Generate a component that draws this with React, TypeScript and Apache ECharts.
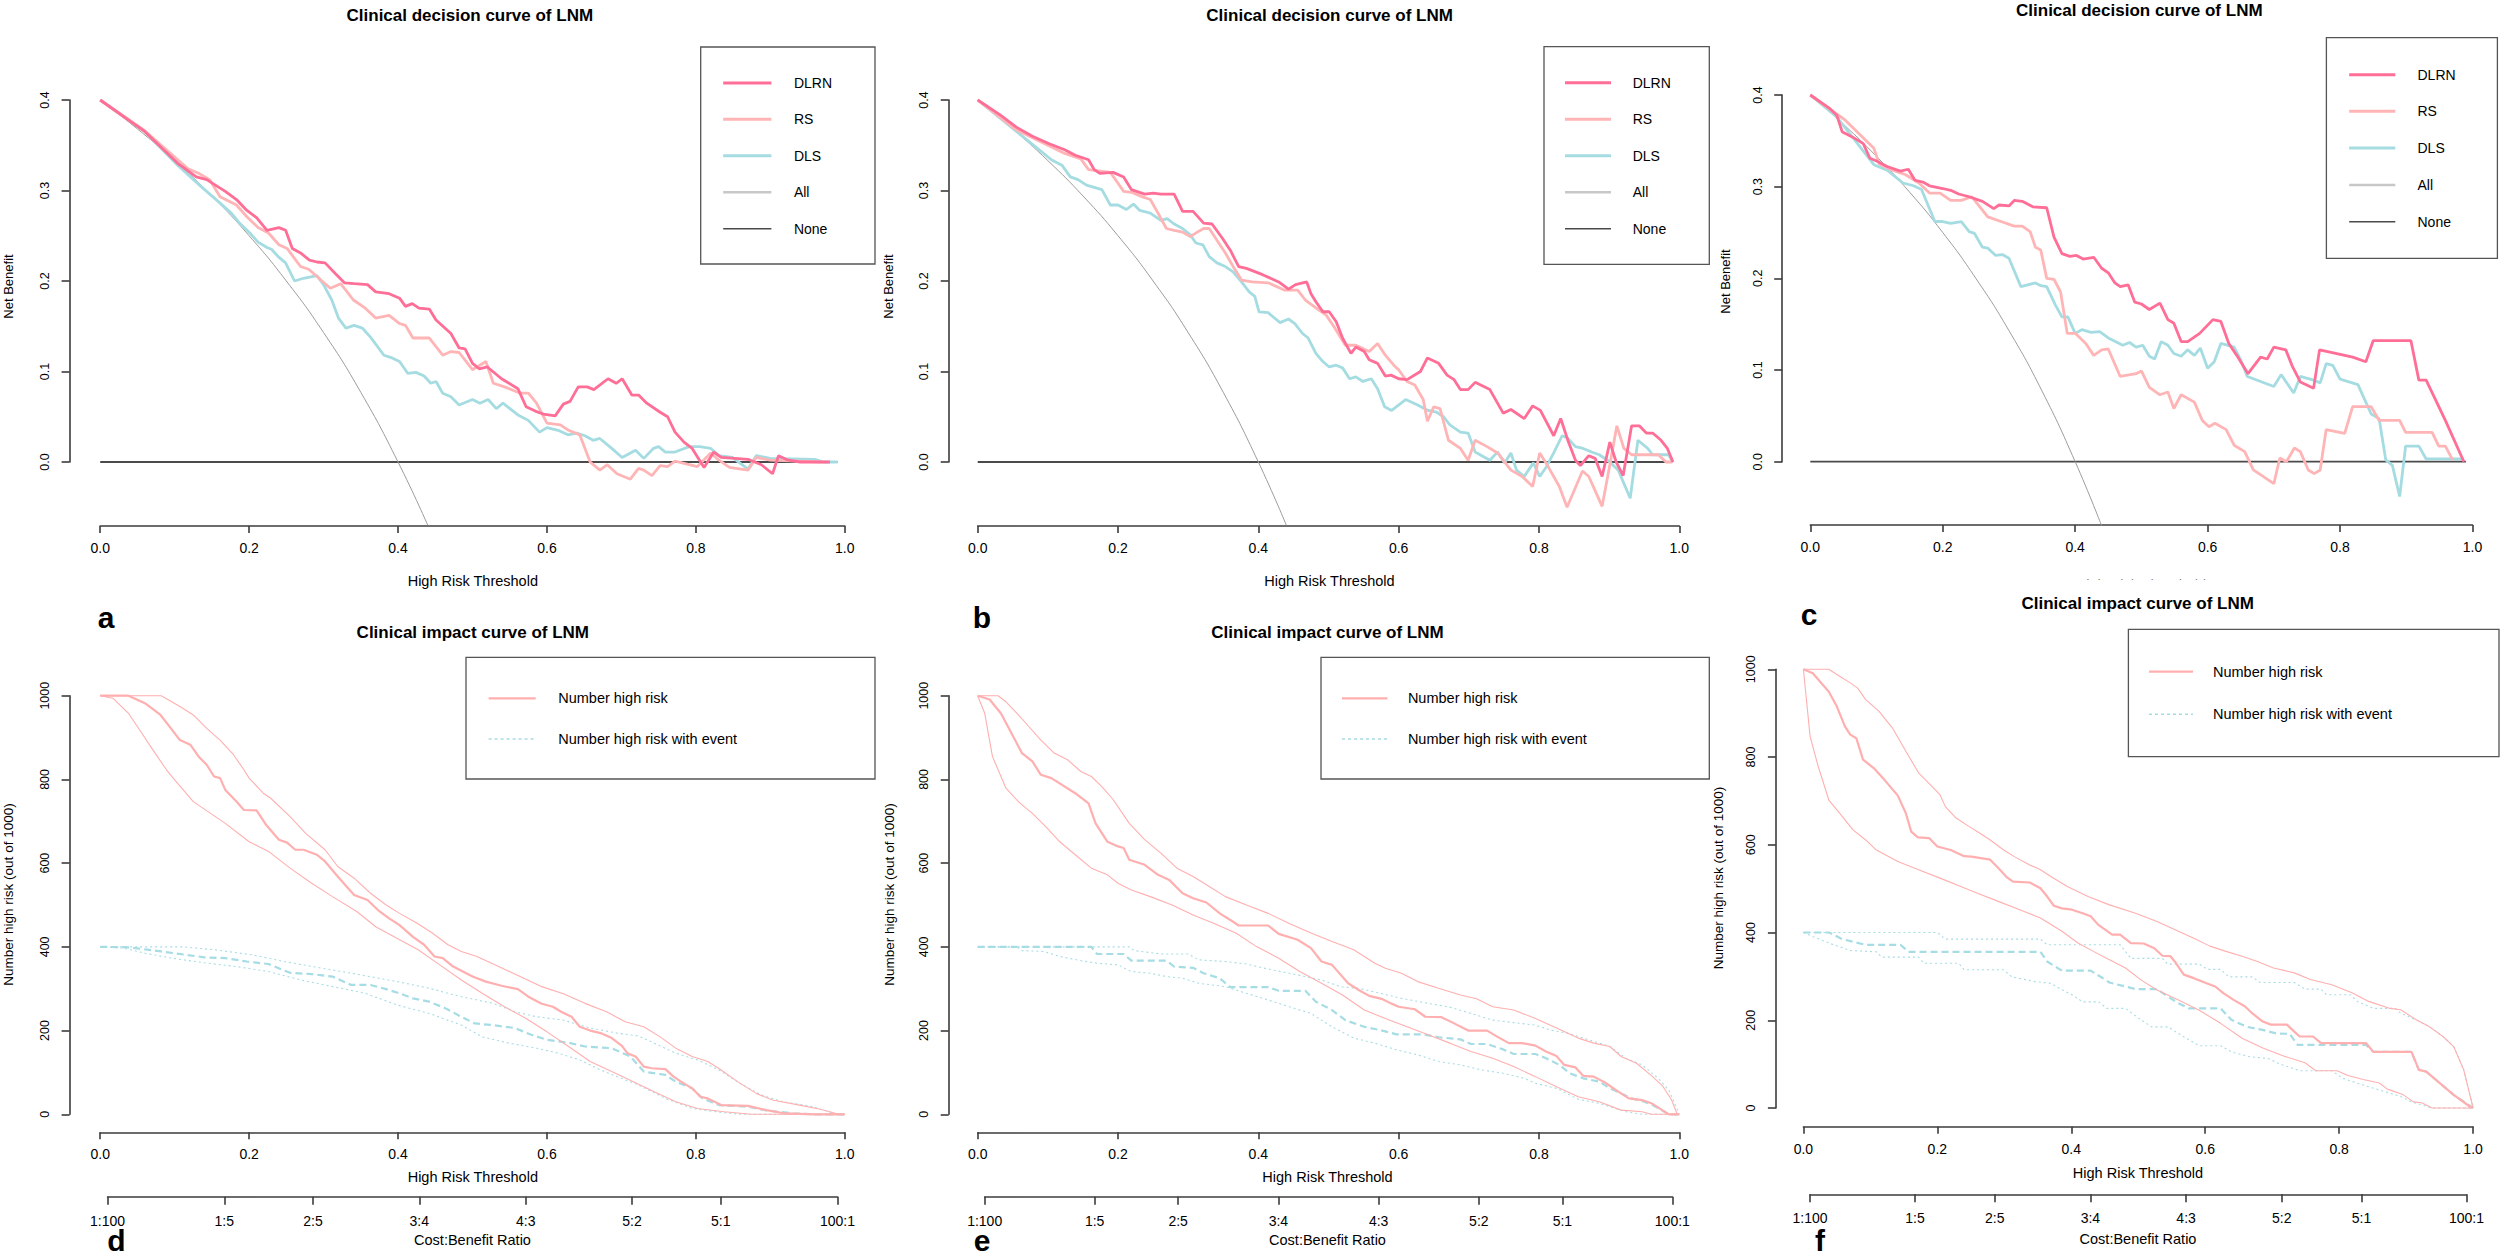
import React, { useEffect, useRef } from 'react';
import * as echarts from 'echarts';

// ---------------- ticks / labels ----------------
const thresholdTicks = [0, 0.2, 0.4, 0.6, 0.8, 1.0];
const netBenefitTicks = [0, 0.1, 0.2, 0.3, 0.4];
const impactTicks = [0, 200, 400, 600, 800, 1000];
const costBenefitLabels = ['1:100', '1:5', '2:5', '3:4', '4:3', '5:2', '5:1', '100:1'];
const decisionNames = ['DLRN', 'RS', 'DLS', 'All', 'None'];
const impactNames = ['Number high risk', 'Number high risk with event'];
const panelLetters = ['a', 'b', 'c', 'd', 'e', 'f'];
const decisionTitle = 'Clinical decision curve of LNM';
const impactTitle = 'Clinical impact curve of LNM';

// ---------------- decision curves (threshold, net benefit) ----------------
const allCurve = [[0, 0.4], [0.05, 0.368], [0.1, 0.333], [0.15, 0.294], [0.2, 0.25], [0.25, 0.2], [0.3, 0.143], [0.35, 0.077], [0.4, 0], [0.44, -0.07]];
const noneLine = [[0, 0], [0.99, 0]];

const aDLRN = [[0,0.4],[0.06,0.365],[0.104,0.33],[0.129,0.315],[0.143,0.312],[0.168,0.299],[0.183,0.29],[0.197,0.278],[0.21,0.27],[0.224,0.256],[0.24,0.259],[0.249,0.256],[0.258,0.236],[0.269,0.231],[0.281,0.223],[0.291,0.221],[0.302,0.22],[0.316,0.208],[0.328,0.198],[0.341,0.197],[0.359,0.196],[0.37,0.188],[0.388,0.186],[0.402,0.181],[0.41,0.172],[0.419,0.175],[0.428,0.17],[0.442,0.169],[0.451,0.157],[0.471,0.142],[0.482,0.126],[0.49,0.125],[0.5,0.109],[0.509,0.103],[0.52,0.105],[0.539,0.092],[0.561,0.081],[0.572,0.061],[0.585,0.056],[0.595,0.053],[0.611,0.051],[0.622,0.064],[0.631,0.067],[0.642,0.083],[0.654,0.083],[0.663,0.08],[0.682,0.092],[0.693,0.087],[0.701,0.092],[0.714,0.074],[0.723,0.074],[0.734,0.065],[0.752,0.055],[0.762,0.05],[0.772,0.033],[0.784,0.022],[0.795,0.015],[0.811,-0.006],[0.824,0.011],[0.834,0.005],[0.87,0.003],[0.888,-0.003],[0.903,-0.013],[0.911,0.007],[0.924,0.002],[0.94,0],[0.98,0]];
const aRS = [[0,0.4],[0.06,0.366],[0.082,0.35],[0.118,0.324],[0.132,0.319],[0.147,0.312],[0.161,0.293],[0.183,0.284],[0.197,0.271],[0.212,0.259],[0.226,0.253],[0.24,0.24],[0.251,0.236],[0.269,0.216],[0.28,0.213],[0.309,0.192],[0.323,0.197],[0.34,0.179],[0.356,0.17],[0.37,0.159],[0.388,0.162],[0.402,0.153],[0.41,0.151],[0.42,0.137],[0.442,0.137],[0.46,0.118],[0.471,0.122],[0.482,0.121],[0.5,0.102],[0.518,0.111],[0.528,0.087],[0.543,0.083],[0.564,0.076],[0.575,0.076],[0.586,0.065],[0.6,0.043],[0.618,0.041],[0.629,0.035],[0.644,0.03],[0.658,0],[0.671,-0.009],[0.681,-0.003],[0.694,-0.013],[0.712,-0.019],[0.723,-0.007],[0.73,-0.009],[0.741,-0.015],[0.752,-0.004],[0.762,-0.005],[0.772,0.001],[0.802,-0.005],[0.82,0.01],[0.831,0.002],[0.845,-0.006],[0.87,-0.009],[0.881,0.005],[0.9,0.002],[0.97,0]];
const aDLS = [[0,0.4],[0.06,0.365],[0.104,0.328],[0.136,0.304],[0.161,0.286],[0.176,0.275],[0.186,0.265],[0.201,0.253],[0.212,0.243],[0.224,0.237],[0.23,0.235],[0.239,0.227],[0.249,0.22],[0.261,0.2],[0.273,0.203],[0.291,0.206],[0.3,0.196],[0.311,0.179],[0.32,0.159],[0.33,0.148],[0.341,0.151],[0.352,0.148],[0.363,0.138],[0.381,0.118],[0.392,0.115],[0.402,0.111],[0.413,0.098],[0.424,0.099],[0.435,0.095],[0.444,0.087],[0.451,0.089],[0.46,0.076],[0.471,0.072],[0.482,0.063],[0.5,0.069],[0.51,0.065],[0.521,0.069],[0.532,0.059],[0.541,0.065],[0.561,0.052],[0.575,0.046],[0.59,0.033],[0.6,0.038],[0.615,0.035],[0.628,0.03],[0.64,0.032],[0.651,0.029],[0.662,0.024],[0.671,0.026],[0.687,0.015],[0.701,0.005],[0.719,0.013],[0.73,0.004],[0.743,0.015],[0.75,0.017],[0.759,0.011],[0.772,0.011],[0.791,0.017],[0.805,0.017],[0.82,0.015],[0.831,0.007],[0.849,0.005],[0.87,-0.008],[0.881,0.007],[0.9,0.004],[0.96,0.003],[0.971,0],[0.99,0]];

const bDLRN = [[0,0.4],[0.033,0.383],[0.055,0.37],[0.078,0.36],[0.101,0.352],[0.124,0.345],[0.139,0.339],[0.158,0.334],[0.166,0.323],[0.174,0.319],[0.193,0.32],[0.208,0.315],[0.219,0.301],[0.238,0.296],[0.25,0.297],[0.261,0.296],[0.28,0.296],[0.292,0.277],[0.307,0.277],[0.322,0.264],[0.334,0.263],[0.349,0.247],[0.36,0.234],[0.372,0.216],[0.383,0.214],[0.406,0.207],[0.429,0.199],[0.443,0.191],[0.453,0.196],[0.469,0.199],[0.475,0.186],[0.482,0.177],[0.492,0.166],[0.501,0.166],[0.511,0.155],[0.52,0.137],[0.532,0.12],[0.539,0.127],[0.551,0.122],[0.558,0.113],[0.57,0.109],[0.581,0.095],[0.589,0.096],[0.6,0.092],[0.612,0.091],[0.631,0.1],[0.641,0.115],[0.657,0.109],[0.669,0.096],[0.679,0.091],[0.688,0.08],[0.699,0.08],[0.709,0.088],[0.73,0.08],[0.749,0.054],[0.76,0.058],[0.779,0.048],[0.791,0.062],[0.802,0.057],[0.821,0.029],[0.831,0.048],[0.842,0.022],[0.852,0.002],[0.859,-0.004],[0.871,0.007],[0.88,0.004],[0.89,-0.016],[0.901,0.022],[0.91,0],[0.92,-0.015],[0.932,0.04],[0.943,0.04],[0.953,0.032],[0.962,0.032],[0.974,0.024],[0.983,0.015],[0.991,0]];
const bRS = [[0,0.4],[0.055,0.367],[0.124,0.341],[0.147,0.335],[0.158,0.323],[0.189,0.32],[0.2,0.308],[0.208,0.299],[0.219,0.298],[0.235,0.293],[0.246,0.29],[0.257,0.275],[0.269,0.258],[0.28,0.256],[0.292,0.254],[0.303,0.249],[0.313,0.254],[0.322,0.258],[0.33,0.258],[0.341,0.245],[0.353,0.231],[0.364,0.216],[0.376,0.201],[0.391,0.199],[0.414,0.198],[0.437,0.19],[0.456,0.19],[0.467,0.179],[0.486,0.168],[0.497,0.162],[0.509,0.148],[0.524,0.129],[0.539,0.129],[0.558,0.122],[0.57,0.131],[0.581,0.118],[0.593,0.107],[0.6,0.102],[0.612,0.089],[0.623,0.085],[0.635,0.069],[0.641,0.045],[0.65,0.061],[0.659,0.059],[0.671,0.024],[0.688,0.015],[0.699,0.002],[0.709,0.024],[0.726,0.017],[0.741,0.01],[0.76,-0.009],[0.776,-0.016],[0.791,-0.027],[0.801,0.01],[0.81,-0.001],[0.829,-0.027],[0.84,-0.05],[0.862,-0.01],[0.871,-0.016],[0.89,-0.049],[0.901,-0.003],[0.911,0.04],[0.921,0.015],[0.932,0.008],[0.97,0.008],[0.981,0],[0.99,0]];
const bDLS = [[0,0.4],[0.086,0.346],[0.105,0.334],[0.12,0.328],[0.132,0.315],[0.143,0.312],[0.155,0.306],[0.177,0.301],[0.189,0.284],[0.2,0.284],[0.212,0.279],[0.222,0.285],[0.231,0.278],[0.246,0.275],[0.261,0.267],[0.27,0.269],[0.28,0.263],[0.292,0.258],[0.303,0.251],[0.311,0.242],[0.321,0.24],[0.33,0.227],[0.341,0.22],[0.353,0.216],[0.364,0.21],[0.376,0.199],[0.387,0.188],[0.395,0.183],[0.401,0.166],[0.414,0.165],[0.431,0.154],[0.443,0.158],[0.452,0.153],[0.463,0.142],[0.471,0.137],[0.482,0.12],[0.492,0.111],[0.501,0.105],[0.511,0.107],[0.52,0.104],[0.53,0.092],[0.539,0.094],[0.549,0.089],[0.561,0.092],[0.57,0.081],[0.58,0.061],[0.59,0.057],[0.61,0.069],[0.627,0.063],[0.642,0.057],[0.654,0.055],[0.664,0.05],[0.673,0.041],[0.688,0.033],[0.699,0.032],[0.709,0.011],[0.73,0.002],[0.741,0.011],[0.751,-0.001],[0.76,0.01],[0.768,-0.009],[0.779,-0.016],[0.792,-0.001],[0.801,-0.016],[0.81,-0.006],[0.821,0.01],[0.833,0.029],[0.84,0.027],[0.852,0.017],[0.863,0.015],[0.875,0.011],[0.886,0.008],[0.901,0],[0.913,-0.009],[0.93,-0.04],[0.941,0.024],[0.955,0.015],[0.962,0.008],[0.985,0.008],[0.99,0]];

const cDLRN = [[0,0.4],[0.028,0.386],[0.04,0.378],[0.048,0.36],[0.064,0.354],[0.08,0.347],[0.09,0.331],[0.1,0.328],[0.116,0.322],[0.136,0.317],[0.148,0.319],[0.158,0.307],[0.17,0.305],[0.18,0.301],[0.2,0.298],[0.212,0.296],[0.224,0.292],[0.24,0.289],[0.26,0.284],[0.277,0.276],[0.285,0.28],[0.3,0.279],[0.308,0.285],[0.32,0.284],[0.336,0.278],[0.357,0.277],[0.368,0.245],[0.38,0.227],[0.392,0.224],[0.402,0.225],[0.412,0.221],[0.428,0.223],[0.44,0.211],[0.45,0.206],[0.46,0.195],[0.468,0.191],[0.48,0.193],[0.49,0.174],[0.5,0.172],[0.512,0.166],[0.528,0.173],[0.54,0.155],[0.549,0.151],[0.56,0.131],[0.57,0.131],[0.588,0.14],[0.608,0.155],[0.62,0.153],[0.632,0.129],[0.644,0.116],[0.661,0.096],[0.68,0.114],[0.69,0.112],[0.7,0.125],[0.718,0.122],[0.728,0.104],[0.74,0.087],[0.76,0.08],[0.769,0.122],[0.795,0.118],[0.819,0.114],[0.839,0.109],[0.85,0.132],[0.907,0.132],[0.919,0.089],[0.93,0.089],[0.959,0.045],[0.987,0]];
const cRS = [[0,0.4],[0.052,0.373],[0.096,0.342],[0.104,0.325],[0.124,0.318],[0.144,0.313],[0.164,0.304],[0.18,0.293],[0.196,0.293],[0.212,0.285],[0.228,0.285],[0.244,0.289],[0.268,0.267],[0.288,0.262],[0.308,0.257],[0.32,0.257],[0.332,0.251],[0.34,0.234],[0.348,0.231],[0.357,0.2],[0.368,0.199],[0.378,0.185],[0.388,0.14],[0.4,0.14],[0.416,0.129],[0.428,0.116],[0.44,0.122],[0.45,0.123],[0.468,0.093],[0.492,0.096],[0.5,0.099],[0.512,0.081],[0.528,0.073],[0.54,0.076],[0.549,0.058],[0.56,0.073],[0.58,0.065],[0.592,0.045],[0.602,0.038],[0.611,0.042],[0.628,0.035],[0.64,0.018],[0.656,0.011],[0.669,-0.009],[0.7,-0.024],[0.709,0.004],[0.719,0],[0.731,0.015],[0.74,0.011],[0.752,-0.009],[0.761,-0.013],[0.77,-0.009],[0.779,0.035],[0.807,0.031],[0.819,0.06],[0.847,0.06],[0.859,0.045],[0.89,0.045],[0.899,0.032],[0.939,0.032],[0.949,0.017],[0.959,0.017],[0.97,0.002]];
const cDLS = [[0,0.4],[0.04,0.376],[0.096,0.324],[0.116,0.318],[0.14,0.304],[0.156,0.301],[0.168,0.297],[0.188,0.262],[0.2,0.262],[0.212,0.26],[0.228,0.262],[0.24,0.251],[0.248,0.249],[0.26,0.234],[0.268,0.233],[0.28,0.225],[0.29,0.226],[0.3,0.222],[0.318,0.191],[0.34,0.195],[0.348,0.192],[0.357,0.191],[0.37,0.171],[0.38,0.158],[0.389,0.158],[0.4,0.14],[0.41,0.144],[0.424,0.141],[0.437,0.142],[0.45,0.135],[0.472,0.127],[0.482,0.13],[0.492,0.125],[0.502,0.127],[0.512,0.115],[0.52,0.112],[0.53,0.131],[0.54,0.127],[0.549,0.118],[0.56,0.115],[0.57,0.122],[0.58,0.116],[0.589,0.124],[0.6,0.102],[0.61,0.109],[0.62,0.129],[0.64,0.125],[0.65,0.111],[0.66,0.093],[0.7,0.082],[0.711,0.095],[0.73,0.075],[0.74,0.093],[0.76,0.089],[0.77,0.086],[0.779,0.107],[0.789,0.105],[0.8,0.09],[0.827,0.084],[0.847,0.052],[0.859,0.047],[0.869,0.002],[0.879,-0.004],[0.89,-0.038],[0.899,0.017],[0.919,0.017],[0.93,0.003],[0.987,0.003]];

// ---------------- clinical impact curves (threshold, number out of 1000) ----------------
const dHighRisk = [[0,1000],[0.038,1000],[0.06,982],[0.081,954],[0.095,922],[0.107,894],[0.121,883],[0.132,855],[0.143,835],[0.153,807],[0.161,803],[0.168,775],[0.183,747],[0.193,727],[0.21,726],[0.223,691],[0.24,656],[0.251,649],[0.262,632],[0.273,632],[0.291,620],[0.302,604],[0.319,568],[0.341,524],[0.359,512],[0.373,488],[0.388,468],[0.402,452],[0.42,424],[0.435,405],[0.449,377],[0.46,373],[0.474,353],[0.5,329],[0.518,317],[0.539,307],[0.561,299],[0.575,281],[0.593,264],[0.608,257],[0.619,245],[0.633,233],[0.644,209],[0.658,200],[0.672,194],[0.687,182],[0.701,163],[0.708,146],[0.719,138],[0.73,114],[0.741,110],[0.759,108],[0.77,90],[0.78,78],[0.795,62],[0.806,42],[0.816,38],[0.834,22],[0.87,20],[0.895,10],[0.92,2],[0.96,0],[1,0]];
const dHighRiskUpper = [[0,1000],[0.082,1000],[0.107,974],[0.125,954],[0.143,922],[0.161,894],[0.179,859],[0.193,823],[0.2,803],[0.219,767],[0.229,755],[0.255,711],[0.276,671],[0.302,632],[0.319,592],[0.341,564],[0.363,528],[0.384,500],[0.402,480],[0.424,458],[0.446,433],[0.467,405],[0.485,389],[0.506,377],[0.535,353],[0.564,329],[0.593,305],[0.622,288],[0.651,265],[0.68,245],[0.705,221],[0.73,209],[0.752,185],[0.773,158],[0.795,138],[0.816,126],[0.834,106],[0.856,78],[0.881,50],[0.903,34],[0.939,22],[0.967,12],[0.992,0]];
const dHighRiskLower = [[0,1000],[0.017,994],[0.038,958],[0.053,918],[0.071,870],[0.089,823],[0.1,799],[0.125,747],[0.168,695],[0.2,651],[0.226,628],[0.255,588],[0.284,552],[0.312,520],[0.345,484],[0.37,448],[0.399,420],[0.427,393],[0.456,357],[0.485,321],[0.513,289],[0.543,257],[0.572,229],[0.6,197],[0.629,162],[0.658,126],[0.687,102],[0.716,78],[0.744,54],[0.773,30],[0.802,14],[0.838,6],[0.874,0],[1,0]];
const dWithEvent = [[0,400],[0.038,399],[0.082,389],[0.14,375],[0.168,373],[0.197,365],[0.226,359],[0.255,338],[0.284,335],[0.312,329],[0.337,309],[0.363,309],[0.384,299],[0.402,289],[0.42,277],[0.442,269],[0.464,253],[0.485,233],[0.503,217],[0.528,213],[0.557,206],[0.579,190],[0.6,178],[0.629,171],[0.651,162],[0.687,158],[0.712,138],[0.73,102],[0.759,94],[0.773,78],[0.795,62],[0.809,38],[0.831,22],[0.87,18],[0.895,9],[0.931,2],[0.96,0],[1,0]];
const dWithEventUpper = [[0,400],[0.111,400],[0.154,393],[0.204,381],[0.247,365],[0.298,349],[0.334,338],[0.399,317],[0.442,301],[0.485,281],[0.528,265],[0.557,245],[0.586,233],[0.622,225],[0.658,206],[0.694,194],[0.723,187],[0.744,170],[0.773,146],[0.802,130],[0.831,106],[0.859,74],[0.888,46],[0.917,30],[0.953,20],[0.99,0]];
const dWithEventLower = [[0,400],[0.031,397],[0.06,385],[0.096,373],[0.14,362],[0.183,353],[0.226,341],[0.269,321],[0.312,305],[0.356,289],[0.399,261],[0.442,241],[0.485,213],[0.513,185],[0.549,170],[0.586,158],[0.615,146],[0.644,130],[0.672,106],[0.694,90],[0.723,70],[0.759,38],[0.795,14],[0.831,5],[0.86,0],[1,0]];

const eHighRisk = [[0,1000],[0.017,991],[0.033,958],[0.048,911],[0.063,863],[0.078,843],[0.09,811],[0.105,803],[0.109,799],[0.139,767],[0.158,743],[0.168,695],[0.185,651],[0.2,640],[0.208,636],[0.216,608],[0.238,596],[0.257,572],[0.273,560],[0.292,528],[0.307,516],[0.326,506],[0.345,480],[0.364,460],[0.372,451],[0.414,451],[0.429,431],[0.456,417],[0.475,397],[0.49,365],[0.505,357],[0.528,313],[0.543,297],[0.558,283],[0.577,275],[0.589,265],[0.6,257],[0.623,251],[0.638,233],[0.661,232],[0.677,219],[0.699,200],[0.726,200],[0.741,185],[0.757,170],[0.776,170],[0.795,164],[0.81,150],[0.825,139],[0.836,118],[0.852,112],[0.863,92],[0.878,90],[0.894,76],[0.913,54],[0.928,38],[0.947,34],[0.962,25],[0.985,0],[1,0]];
const eHighRiskUpper = [[0,1000],[0.029,1000],[0.04,986],[0.056,958],[0.071,930],[0.09,894],[0.109,863],[0.128,847],[0.147,819],[0.162,807],[0.177,783],[0.193,752],[0.216,695],[0.238,656],[0.261,624],[0.284,588],[0.307,568],[0.33,544],[0.353,520],[0.383,500],[0.414,480],[0.444,456],[0.475,433],[0.505,413],[0.536,393],[0.566,361],[0.581,349],[0.604,337],[0.627,317],[0.657,301],[0.688,285],[0.711,276],[0.734,257],[0.764,249],[0.795,229],[0.825,206],[0.856,182],[0.878,170],[0.901,162],[0.917,138],[0.939,122],[0.962,90],[0.977,66],[0.989,34],[0.997,0]];
const eHighRiskLower = [[0,1000],[0.01,958],[0.021,855],[0.04,780],[0.059,745],[0.078,719],[0.097,687],[0.117,651],[0.139,620],[0.162,588],[0.185,572],[0.2,552],[0.219,536],[0.246,520],[0.277,500],[0.307,476],[0.337,456],[0.368,433],[0.398,400],[0.429,373],[0.459,341],[0.49,313],[0.52,285],[0.551,249],[0.581,229],[0.612,209],[0.642,190],[0.673,170],[0.703,150],[0.734,134],[0.764,114],[0.795,90],[0.825,66],[0.856,42],[0.886,30],[0.917,10],[0.947,6],[0.96,0],[1,0]];
const eWithEvent = [[0,400],[0.162,400],[0.17,383],[0.208,383],[0.219,367],[0.269,367],[0.28,353],[0.307,350],[0.322,337],[0.345,325],[0.36,304],[0.414,304],[0.429,295],[0.467,295],[0.482,269],[0.505,249],[0.524,225],[0.551,209],[0.574,201],[0.597,191],[0.635,191],[0.657,184],[0.688,179],[0.703,168],[0.726,168],[0.749,155],[0.764,144],[0.795,144],[0.81,134],[0.829,118],[0.844,98],[0.863,86],[0.886,78],[0.901,62],[0.917,50],[0.932,38],[0.947,32],[0.962,22],[0.985,0],[1,0]];
const eWithEventUpper = [[0,400],[0.216,400],[0.223,391],[0.261,383],[0.3,383],[0.315,369],[0.353,365],[0.383,359],[0.414,347],[0.444,337],[0.467,329],[0.49,321],[0.517,305],[0.543,301],[0.574,289],[0.604,277],[0.642,265],[0.673,256],[0.703,241],[0.734,225],[0.764,219],[0.795,213],[0.817,201],[0.84,194],[0.871,178],[0.901,162],[0.924,134],[0.947,118],[0.97,86],[0.985,58],[1,0]];
const eWithEventLower = [[0,400],[0.056,400],[0.063,391],[0.094,389],[0.117,377],[0.147,367],[0.17,361],[0.2,357],[0.219,341],[0.246,337],[0.269,329],[0.292,325],[0.315,313],[0.353,305],[0.383,289],[0.414,273],[0.444,257],[0.475,241],[0.505,209],[0.536,182],[0.566,170],[0.597,154],[0.627,142],[0.657,126],[0.688,118],[0.718,106],[0.749,98],[0.779,86],[0.795,74],[0.825,62],[0.856,36],[0.886,26],[0.924,6],[0.947,0],[1,0]];

const fHighRisk = [[0,1000],[0.014,991],[0.038,949],[0.05,915],[0.062,870],[0.07,851],[0.079,843],[0.089,794],[0.105,775],[0.121,748],[0.141,712],[0.153,672],[0.161,630],[0.171,617],[0.188,615],[0.2,596],[0.22,588],[0.24,574],[0.251,573],[0.279,566],[0.291,547],[0.303,527],[0.313,516],[0.338,514],[0.354,501],[0.364,482],[0.374,461],[0.386,455],[0.401,452],[0.417,444],[0.429,437],[0.44,418],[0.461,395],[0.473,395],[0.489,376],[0.508,375],[0.524,364],[0.536,347],[0.548,346],[0.556,331],[0.568,304],[0.583,296],[0.599,286],[0.615,277],[0.627,262],[0.643,246],[0.659,232],[0.67,216],[0.686,197],[0.698,190],[0.722,190],[0.733,174],[0.741,163],[0.761,163],[0.773,148],[0.84,148],[0.851,128],[0.908,128],[0.919,87],[0.93,83],[0.971,30],[0.998,0]];
const fHighRiskUpper = [[0,1000],[0.038,1000],[0.054,984],[0.07,969],[0.081,957],[0.093,931],[0.113,904],[0.133,866],[0.153,813],[0.172,764],[0.192,733],[0.204,714],[0.212,687],[0.228,661],[0.247,642],[0.263,627],[0.279,611],[0.299,588],[0.315,573],[0.338,554],[0.354,543],[0.37,527],[0.394,505],[0.425,482],[0.457,463],[0.496,444],[0.528,425],[0.56,403],[0.583,387],[0.607,369],[0.631,357],[0.655,346],[0.678,334],[0.702,319],[0.733,308],[0.757,293],[0.789,281],[0.82,262],[0.844,243],[0.876,227],[0.892,224],[0.915,201],[0.935,185],[0.955,163],[0.971,140],[0.986,87],[1,0]];
const fHighRiskLower = [[0,1000],[0.01,847],[0.022,779],[0.038,702],[0.054,672],[0.074,634],[0.093,611],[0.109,588],[0.141,562],[0.172,543],[0.204,524],[0.235,505],[0.259,490],[0.291,471],[0.323,452],[0.354,433],[0.386,403],[0.41,376],[0.433,357],[0.457,338],[0.481,319],[0.504,292],[0.528,269],[0.56,246],[0.591,223],[0.623,193],[0.655,159],[0.686,137],[0.718,118],[0.749,103],[0.765,85],[0.797,85],[0.813,74],[0.836,65],[0.86,57],[0.872,43],[0.896,30],[0.911,14],[0.923,12],[0.939,0],[1,0]];
const fWithEvent = [[0,400],[0.038,400],[0.058,385],[0.093,372],[0.145,372],[0.157,356],[0.354,356],[0.364,334],[0.386,313],[0.429,313],[0.445,298],[0.457,286],[0.496,271],[0.528,271],[0.544,254],[0.56,239],[0.576,227],[0.623,227],[0.639,201],[0.662,185],[0.686,178],[0.706,170],[0.726,169],[0.738,144],[0.84,144],[0.851,128],[0.908,128],[0.919,87],[0.93,83],[0.971,30],[1,0]];
const fWithEventUpper = [[0,400],[0.2,400],[0.212,385],[0.354,385],[0.364,372],[0.473,372],[0.489,341],[0.536,341],[0.544,328],[0.591,328],[0.603,316],[0.623,316],[0.635,299],[0.67,299],[0.682,286],[0.733,286],[0.749,271],[0.773,271],[0.781,258],[0.817,258],[0.828,242],[0.852,227],[0.884,227],[0.892,216],[0.915,201],[0.935,185],[0.955,163],[0.971,140],[0.986,87],[1,0]];
const fWithEventLower = [[0,400],[0.014,391],[0.038,376],[0.07,359],[0.109,356],[0.117,344],[0.172,344],[0.18,330],[0.232,330],[0.24,315],[0.299,315],[0.311,299],[0.346,288],[0.37,284],[0.382,273],[0.401,258],[0.417,242],[0.441,242],[0.453,227],[0.481,227],[0.504,201],[0.52,185],[0.544,185],[0.56,170],[0.576,155],[0.591,142],[0.623,142],[0.639,128],[0.666,117],[0.694,113],[0.71,101],[0.741,85],[0.789,85],[0.805,68],[0.828,56],[0.86,41],[0.892,26],[0.908,14],[0.939,0],[1,0]];

const decisionData = [
  { DLRN: aDLRN, RS: aRS, DLS: aDLS },
  { DLRN: bDLRN, RS: bRS, DLS: bDLS },
  { DLRN: cDLRN, RS: cRS, DLS: cDLS },
];
const impactData = [
  { hr: dHighRisk, hrU: dHighRiskUpper, hrL: dHighRiskLower, ev: dWithEvent, evU: dWithEventUpper, evL: dWithEventLower },
  { hr: eHighRisk, hrU: eHighRiskUpper, hrL: eHighRiskLower, ev: eWithEvent, evU: eWithEventUpper, evL: eWithEventLower },
  { hr: fHighRisk, hrU: fHighRiskUpper, hrL: fHighRiskLower, ev: fWithEvent, evU: fWithEventUpper, evL: fWithEventLower },
];

// ---------------- layout (pixels) ----------------
const FONT = "'Liberation Sans', Arial, Helvetica, sans-serif";
const C_DLRN = '#FF6E96';
const C_RS = '#FFB4B6';
const C_DLS = '#A4DCE2';
const C_ALL = '#9C9C9C';
const C_ALL_LEG = '#C8C8C8';
const C_NONE = '#4A4A4A';
const C_HR = '#FFAFAF';
const C_EV = '#A6DCE4';
const C_GRID = '#EBEBEB';
const C_AXIS = '#3C3C3C';

const decisionLayout = [
  { x0: 100.2, x1: 844.8, yTop: 100, yZero: 462, regionTop: 47, axisY: 526, axisX: 69.6,
    title: [469.8, 15.7], xlab: [472.8, 581], ylab: [8, 286.5], letter: [106, 617.6],
    legend: { l: 700.7, r: 875, t: 47, b: 264, rows: [83, 119.3, 155.7, 192.3, 228.7], lx1: 723.2, lx2: 771.4, tx: 793.9 } },
  { x0: 977.7, x1: 1679.3, yTop: 100, yZero: 462, regionTop: 47, axisY: 526, axisX: 948.7,
    title: [1329.6, 15.7], xlab: [1329.4, 581], ylab: [888.2, 286.5], letter: [982, 617.6],
    legend: { l: 1544, r: 1709.3, t: 46.7, b: 264.3, rows: [82.7, 119.3, 155.7, 192.3, 228.7], lx1: 1565, lx2: 1611, tx: 1632.7 } },
  { x0: 1810.3, x1: 2472.5, yTop: 95, yZero: 461.7, regionTop: 38, axisY: 525, axisX: 1782.2,
    title: [2139.3, 10], xlab: [2141, 585], ylab: [1725.6, 281.5], letter: [1809, 614.6],
    legend: { l: 2326.4, r: 2497.4, t: 37.7, b: 258.3, rows: [74.7, 111.3, 148, 185, 221.7], lx1: 2349.2, lx2: 2395.3, tx: 2417.5 } },
];
const impactLayout = [
  { x0: 100.2, x1: 844.8, yTop: 695.7, yZero: 1114.3, regionTop: 656.7, axisY: 1132.3, costY: 1196.7, axisX: 69.6,
    title: [472.8, 632], xlab: [472.8, 1176.7], cblab: [472.5, 1240], ylab: [8, 894.5], letter: [116.5, 1240.5],
    legend: { l: 466, r: 875, t: 657.3, b: 779, rows: [698.3, 739], lx1: 488.6, lx2: 535.7, tx: 558.2 } },
  { x0: 977.7, x1: 1679.3, yTop: 695.7, yZero: 1114.3, regionTop: 656.7, axisY: 1132.3, costY: 1196.7, axisX: 948.7,
    title: [1327.5, 632], xlab: [1327.5, 1176.7], cblab: [1327.5, 1240], ylab: [889, 894.5], letter: [982, 1240.5],
    legend: { l: 1321, r: 1709.3, t: 657.3, b: 779, rows: [698.3, 739], lx1: 1342, lx2: 1387.5, tx: 1407.9 } },
  { x0: 1803.4, x1: 2473.1, yTop: 669.3, yZero: 1108, regionTop: 629.3, axisY: 1126.7, costY: 1194.3, axisX: 1775.9,
    title: [2137.7, 603.3], xlab: [2138, 1173.3], cblab: [2138, 1239], ylab: [1718.7, 878], letter: [1820, 1240.5],
    legend: { l: 2128.4, r: 2499, t: 629.3, b: 756.7, rows: [671.7, 714.3], lx1: 2149, lx2: 2193, tx: 2213 } },
];

const costPositions = costBenefitLabels.map((l) => {
  const [a, b] = l.split(':').map(Number);
  return a / (a + b);
});

function txt(x: number, y: number, s: string, size: number, extra: any = {}, rot = 0): any {
  return {
    type: 'text', x, y, rotation: rot, z: 100, silent: true,
    style: { text: s, fontSize: size, fontFamily: FONT, fill: '#000', align: 'center', verticalAlign: 'middle', ...extra },
  };
}

function buildOption() {
  const grid: any[] = [];
  const xAxis: any[] = [];
  const yAxis: any[] = [];
  const series: any[] = [];
  const graphic: any[] = [];

  const lineStyleAxis = { color: C_AXIS, width: 1.6 };
  const xMain = (gi: number, offset: number) => ({
    gridIndex: gi, type: 'value', min: 0, max: 1, interval: 0.2, offset,
    axisLine: { show: true, onZero: false, lineStyle: lineStyleAxis },
    axisTick: { show: true, length: 7, lineStyle: lineStyleAxis },
    axisLabel: { margin: 15, fontSize: 14, fontFamily: FONT, color: '#000', formatter: (v: number) => v.toFixed(1) },
    splitLine: { show: false },
  });
  const yMain = (gi: number, offset: number, max: number, interval: number, fmt: (v: number) => string) => ({
    gridIndex: gi, type: 'value', min: 0, max, interval, offset,
    axisLine: { show: true, onZero: false, lineStyle: lineStyleAxis },
    axisTick: { show: true, length: 8, lineStyle: lineStyleAxis },
    axisLabel: { rotate: 90, margin: 18, fontSize: 12.5, fontFamily: FONT, color: '#000', formatter: fmt },
    splitLine: { show: false },
  });
  const gridSeries = (xi: number, yi: number, xt: number[], yt: number[], xr: number[], yr: number[]) => {
    const data: any[] = [];
    xt.forEach((x) => data.push([{ coord: [x, yr[0]] }, { coord: [x, yr[1]] }]));
    yt.forEach((y) => data.push([{ coord: [xr[0], y] }, { coord: [xr[1], y] }]));
    return {
      type: 'line', xAxisIndex: xi, yAxisIndex: yi, data: [], silent: true, clip: false, z: 1,
      markLine: { silent: true, symbol: ['none', 'none'], label: { show: false }, animation: false,
        lineStyle: { color: C_GRID, width: 1.2, type: 'solid' }, emphasis: { disabled: true }, data },
    };
  };
  const line = (xi: number, yi: number, name: string, data: number[][], color: string, width: number, z: number, extra: any = {}) => ({
    type: 'line', name, xAxisIndex: xi, yAxisIndex: yi, data, showSymbol: false, symbol: 'none', clip: false, z,
    silent: true, lineStyle: { color, width, ...(extra.lineStyle || {}) }, smooth: extra.smooth || false,
    emphasis: { disabled: true },
  });

  // ---------- decision panels ----------
  decisionLayout.forEach((L, i) => {
    const gi = grid.length;
    grid.push({ left: L.x0, top: L.yTop, width: L.x1 - L.x0, height: L.yZero - L.yTop });
    const xi = xAxis.length;
    const yi = yAxis.length;
    xAxis.push(xMain(gi, L.axisY - L.yZero));
    yAxis.push(yMain(gi, L.x0 - L.axisX, 0.4, 0.1, (v: number) => v.toFixed(1)));
    const ux = L.x1 - L.x0;
    const uy = (L.yZero - L.yTop) / 0.4;
    const xr = [(L.axisX - L.x0) / ux, 1 + (L.x0 - L.axisX) / ux];
    const yr = [(L.yZero - L.axisY) / uy, (L.yZero - L.regionTop) / uy];
    series.push(gridSeries(xi, yi, thresholdTicks, netBenefitTicks, xr, yr));
    const d = decisionData[i];
    series.push(line(xi, yi, 'None', noneLine, C_NONE, 1.8, 3));
    series.push(line(xi, yi, 'All', allCurve, C_ALL, 1, 3, { smooth: true }));
    series.push(line(xi, yi, 'DLS', d.DLS, C_DLS, 2.8, 4));
    series.push(line(xi, yi, 'RS', d.RS, C_RS, 2.8, 5));
    series.push(line(xi, yi, 'DLRN', d.DLRN, C_DLRN, 2.8, 6));

    graphic.push(txt(L.title[0], L.title[1], decisionTitle, 17, { fontWeight: 'bold' }));
    graphic.push(txt(L.ylab[0], L.ylab[1], 'Net Benefit', 13, {}, Math.PI / 2));
    graphic.push(txt(L.xlab[0], L.xlab[1], 'High Risk Threshold', 14.5));
    graphic.push(txt(L.letter[0], L.letter[1], panelLetters[i], 30, { fontWeight: 'bold' }));
    const g = L.legend;
    graphic.push({ type: 'rect', z: 99, silent: true, shape: { x: g.l, y: g.t, width: g.r - g.l, height: g.b - g.t },
      style: { fill: '#fff', stroke: '#555', lineWidth: 1.3 } });
    const legColors = [C_DLRN, C_RS, C_DLS, C_ALL_LEG, C_NONE];
    const legWidths = [3, 3, 3, 2.5, 1.6];
    decisionNames.forEach((n, k) => {
      graphic.push({ type: 'line', z: 100, silent: true, shape: { x1: g.lx1, y1: g.rows[k], x2: g.lx2, y2: g.rows[k] },
        style: { stroke: legColors[k], lineWidth: legWidths[k] } });
      graphic.push(txt(g.tx, g.rows[k], n, 14, { align: 'left' }));
    });
  });
  // panel c's x-axis title is mostly hidden behind the panel below in the reference
  graphic.push({ type: 'rect', z: 101, silent: true, shape: { x: 2040, y: 579.5, width: 200, height: 16 }, style: { fill: '#fff' } });

  // ---------- impact panels ----------
  impactLayout.forEach((L, i) => {
    const gi = grid.length;
    grid.push({ left: L.x0, top: L.yTop, width: L.x1 - L.x0, height: L.yZero - L.yTop });
    const xi = xAxis.length;
    const yi = yAxis.length;
    xAxis.push(xMain(gi, L.axisY - L.yZero));
    yAxis.push(yMain(gi, L.x0 - L.axisX, 1000, 200, (v: number) => String(v)));
    const ux = L.x1 - L.x0;
    const uy = (L.yZero - L.yTop) / 1000;
    const xr = [(L.axisX - L.x0) / ux, 1 + (L.x0 - L.axisX) / ux];
    const yr = [(L.yZero - L.axisY) / uy, (L.yZero - L.regionTop) / uy];
    series.push(gridSeries(xi, yi, thresholdTicks, impactTicks, xr, yr));

    // cost:benefit axis, spanning from first to last ratio tick
    const cMin = costPositions[0];
    const cMax = costPositions[costPositions.length - 1];
    const gc = grid.length;
    grid.push({ left: L.x0 + ux * cMin, top: L.yTop, width: ux * (cMax - cMin), height: L.yZero - L.yTop });
    xAxis.push({
      gridIndex: gc, type: 'value', min: cMin, max: cMax, offset: L.costY - L.yZero,
      axisLine: { show: true, onZero: false, lineStyle: lineStyleAxis },
      axisTick: { show: true, length: 8, lineStyle: lineStyleAxis, customValues: costPositions },
      axisLabel: { margin: 17, fontSize: 14, fontFamily: FONT, color: '#000', customValues: costPositions,
        formatter: (v: number) => {
          const k = costPositions.findIndex((p) => Math.abs(p - v) < 1e-6);
          return k >= 0 ? costBenefitLabels[k] : '';
        } },
      splitLine: { show: false },
    });
    yAxis.push({ gridIndex: gc, type: 'value', show: false, min: 0, max: 1 });

    const d = impactData[i];
    const dotted = { lineStyle: { type: [2, 3] } };
    const dashed = { lineStyle: { type: [7, 4] } };
    series.push(line(xi, yi, 'ev upper', d.evU, C_EV, 1.1, 3, dotted));
    series.push(line(xi, yi, 'ev lower', d.evL, C_EV, 1.1, 3, dotted));
    series.push(line(xi, yi, 'Number high risk with event', d.ev, C_EV, 2.2, 4, dashed));
    series.push(line(xi, yi, 'hr upper', d.hrU, C_HR, 1.1, 5));
    series.push(line(xi, yi, 'hr lower', d.hrL, C_HR, 1.1, 5));
    series.push(line(xi, yi, 'Number high risk', d.hr, C_HR, 2.2, 6));

    graphic.push(txt(L.title[0], L.title[1], impactTitle, 17, { fontWeight: 'bold' }));
    graphic.push(txt(L.ylab[0], L.ylab[1], 'Number high risk (out of 1000)', 13.5, {}, Math.PI / 2));
    graphic.push(txt(L.xlab[0], L.xlab[1], 'High Risk Threshold', 14.5));
    graphic.push(txt(L.cblab[0], L.cblab[1], 'Cost:Benefit Ratio', 14.5));
    graphic.push(txt(L.letter[0], L.letter[1], panelLetters[i + 3], 30, { fontWeight: 'bold' }));
    const g = L.legend;
    graphic.push({ type: 'rect', z: 99, silent: true, shape: { x: g.l, y: g.t, width: g.r - g.l, height: g.b - g.t },
      style: { fill: '#fff', stroke: '#555', lineWidth: 1.3 } });
    graphic.push({ type: 'line', z: 100, silent: true, shape: { x1: g.lx1, y1: g.rows[0], x2: g.lx2, y2: g.rows[0] },
      style: { stroke: C_HR, lineWidth: 2.2 } });
    graphic.push({ type: 'line', z: 100, silent: true, shape: { x1: g.lx1, y1: g.rows[1], x2: g.lx2, y2: g.rows[1] },
      style: { stroke: C_EV, lineWidth: 1.6, lineDash: [3, 3] } });
    graphic.push(txt(g.tx, g.rows[0], impactNames[0], 14.5, { align: 'left' }));
    graphic.push(txt(g.tx, g.rows[1], impactNames[1], 14.5, { align: 'left' }));
  });

  return {
    animation: false,
    backgroundColor: '#ffffff',
    grid, xAxis, yAxis, series,
    graphic: { elements: graphic },
  };
}

export default function App() {
  const ref = useRef<HTMLDivElement>(null);
  useEffect(() => {
    document.body.style.margin = '0';
    document.body.style.overflow = 'hidden';
    const chart = echarts.init(ref.current as HTMLDivElement, undefined, { renderer: 'svg' });
    chart.setOption(buildOption() as any);
    return () => chart.dispose();
  }, []);
  return (
    <div
      ref={ref}
      style={{ position: 'absolute', left: 0, top: 0, width: 2500, height: 1258, background: '#fff' }}
    />
  );
}
